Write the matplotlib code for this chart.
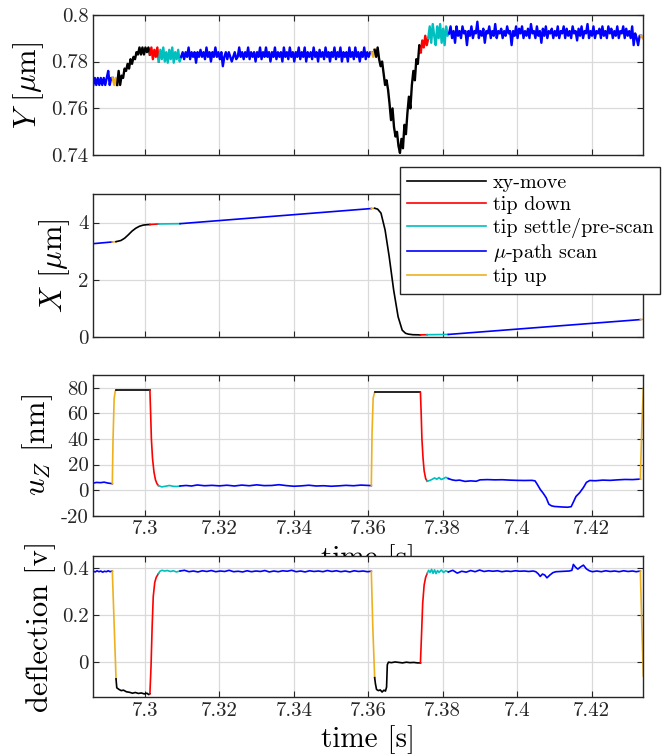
import numpy as np
import matplotlib
matplotlib.use("Agg")
import matplotlib.pyplot as plt
from matplotlib.lines import Line2D
from matplotlib.ticker import FuncFormatter

plt.rcParams['font.family'] = 'cmr10'
plt.rcParams['mathtext.fontset'] = 'cm'
plt.rcParams['axes.unicode_minus'] = False

# phases of the move / scan cycle (start/end times in s)
phase_names = ['scan', 'up', 'move', 'down', 'settle', 'scan', 'up', 'move',
               'down', 'settle', 'scan', 'up']
phase_edges = [7.2861, 7.2912, 7.2922, 7.3013, 7.3036, 7.3094, 7.3608, 7.3617,
               7.3740, 7.3758, 7.3815, 7.4331, 7.4339]
phase_colors = {'move': 'k', 'down': '#FF0000', 'settle': '#00BFBF',
                'scan': '#0000FF', 'up': '#EDB120'}
phase_labels = {'move': 'xy-move', 'down': 'tip down',
                'settle': 'tip settle/pre-scan', 'scan': r'$\mu$-path scan',
                'up': 'tip up'}

# Y position (nm), sampled every 0.4 ms from 7.2861 s
y_t0 = 7.2861
y_dt = 0.0004
y_nm = [770, 773, 770, 773, 770, 773, 770, 773, 770, 773, 776, 770, 773,
        773, 770, 773,
        770, 776, 770, 774, 773, 777, 776, 779, 777, 781, 779, 782, 781, 784, 783, 786,
        783, 786, 783, 786, 784, 786,
        783, 786, 781, 785, 782, 786,
        780, 785, 781, 786, 780, 784, 779.5, 785, 781, 786, 779.5, 784, 781, 785, 780,
        782, 784, 781, 784, 782, 786, 781, 784, 782, 784, 779.5, 784, 782, 785, 782, 784,
        781, 786, 782, 784, 780, 784, 782, 786, 782, 784, 781, 784, 778, 782, 784, 781,
        784, 782, 780, 782, 784, 781, 782, 786, 782, 784, 781, 784, 782, 786, 781, 784,
        782, 784, 780, 784, 782, 786, 781, 784, 782, 786, 782, 784, 780, 784, 782, 786,
        781, 784, 782, 784, 780, 786, 782, 784, 781, 786, 782, 784, 780, 784, 782, 786,
        781, 784, 782, 786, 780, 784, 782, 784, 781, 786, 782, 784, 780, 785, 782, 784,
        781, 786, 782, 784, 780, 784, 782, 786, 781, 784, 782, 786, 780, 784, 782, 784,
        780, 786, 782, 784, 781, 786, 782, 784, 780, 784, 782, 786, 781, 784, 782, 784,
        784, 782,
        785, 782, 786, 781, 778, 780, 775, 770, 772, 768, 762, 755, 760, 752, 748, 750,
        744, 741, 747, 743, 753, 749, 758, 765, 760, 770, 776, 772, 781, 779, 787,
        784, 789, 786, 791, 787,
        790, 795, 788, 796, 791, 787, 795, 790, 796, 788, 794, 787, 795, 791,
        792, 795, 790, 793, 788, 795, 791, 793, 790, 795, 792, 793, 787, 793, 791, 795,
        790, 793, 792, 797, 790, 793, 791, 794, 788, 793, 792, 795, 790, 793, 791, 796,
        790, 793, 792, 794, 790, 793, 791, 795, 792, 793, 787, 793, 791, 795, 790, 794,
        792, 795, 790, 793, 791, 794, 790, 796, 792, 793, 790, 795, 791, 793, 788, 794,
        791, 795, 790, 793, 792, 794, 790, 793, 791, 795, 790, 793, 792, 795, 790, 794,
        791, 793, 790, 795, 792, 793, 789, 794, 791, 795, 790, 793, 792, 796, 790, 793,
        791, 795, 790, 793, 792, 794, 790, 795, 791, 793, 790, 795, 792, 794, 790, 793,
        791, 795, 790, 793, 792, 795, 790, 794, 791, 793, 790, 795, 787, 792, 790, 787, 791,
        791, 790]

# X position (um)
x_t = [7.2861, 7.2912, 7.2922, 7.2935, 7.2945, 7.2955, 7.2965, 7.2975, 7.2985,
       7.2995, 7.3005, 7.3013, 7.3036, 7.3094, 7.3608, 7.3617, 7.3625, 7.3634,
       7.3645, 7.3656, 7.3668, 7.3680, 7.3691, 7.3700, 7.3708, 7.3720, 7.3740,
       7.3758, 7.3815, 7.4331, 7.4339]
x_um = [3.26, 3.32, 3.33, 3.37, 3.45, 3.57, 3.70, 3.80, 3.87,
        3.91, 3.925, 3.93, 3.95, 3.96, 4.49, 4.50, 4.47, 4.33,
        3.74, 2.81, 1.64, 0.70, 0.23, 0.12, 0.09, 0.07, 0.065,
        0.07, 0.08, 0.60, 0.61]

# u_Z (nm)
uz_t = [7.2861, 7.2870, 7.2880, 7.2890, 7.2900, 7.2912, 7.2914, 7.2917, 7.2920,
        7.2922, 7.3013, 7.3015, 7.3017, 7.3020, 7.3024, 7.3028, 7.3032, 7.3036,
        7.3045, 7.3055, 7.3065, 7.3075, 7.3085, 7.3094,
        7.3110, 7.3125, 7.3140, 7.3160, 7.3180, 7.3200, 7.3220, 7.3240, 7.3260,
        7.3280, 7.3300, 7.3320, 7.3340, 7.3360, 7.3380, 7.3400, 7.3420, 7.3440,
        7.3460, 7.3480, 7.3500, 7.3520, 7.3540, 7.3560, 7.3580, 7.3608,
        7.3610, 7.3613, 7.3617, 7.3740, 7.3742, 7.3744, 7.3747, 7.3750, 7.3754,
        7.3758, 7.3765, 7.3772, 7.3778, 7.3784, 7.3790, 7.3796, 7.3802, 7.3808,
        7.3815, 7.3825, 7.3835, 7.3845, 7.3860, 7.3875, 7.3890, 7.3900, 7.3920,
        7.3940, 7.3960, 7.3980, 7.4000, 7.4020, 7.4040, 7.4048, 7.4055, 7.4062,
        7.4070, 7.4078, 7.4085, 7.4092, 7.4100, 7.4120, 7.4135, 7.4145, 7.4150,
        7.4158, 7.4168, 7.4178, 7.4186, 7.4195, 7.4210, 7.4230, 7.4250, 7.4270,
        7.4290, 7.4310, 7.4331, 7.4335, 7.4339]
uz_nm = [5.5, 6.0, 5.8, 6.2, 5.5, 5.0, 40, 72, 77.5,
         78, 78, 60, 40, 25, 14, 8, 5, 3.5,
         2.5, 3.0, 3.6, 3.0, 2.8, 3.2,
         3.6, 3.2, 4.0, 3.4, 3.7, 3.3, 3.8, 3.2, 3.9,
         3.4, 4.1, 3.5, 3.6, 4.2, 3.5, 3.0, 3.3, 3.8,
         3.2, 3.4, 3.0, 3.3, 3.7, 3.4, 3.9, 3.5,
         45, 72, 76.5, 76.5, 60, 40, 25, 15, 9,
         7, 7.5, 8.5, 9.5, 8.5, 9.8, 8.3, 9.0, 10.0,
         9.0, 8.0, 7.5, 7.8, 6.8, 7.2, 6.9, 8.0, 8.2,
         8.0, 8.1, 7.8, 7.6, 7.5, 7.6, 7.2, 4.0, 0.5,
         -2.5, -6, -11, -12.3, -12.8, -13.2, -13.4, -13.0, -10,
         -5, -2, 2, 6, 7.5, 7.3, 7.8, 7.6, 8.0,
         8.3, 8.2, 8.6, 50, 80]

# deflection (V)
defl_t = [7.2861, 7.2866, 7.2871, 7.2876, 7.2881, 7.2886, 7.2891, 7.2896, 7.2901,
          7.2906, 7.2912, 7.2917, 7.2922,
          7.2924, 7.2930, 7.2936, 7.2942, 7.2950, 7.2958, 7.2966, 7.2974, 7.2982,
          7.2990, 7.2998, 7.3005, 7.3010, 7.3013,
          7.3016, 7.3019, 7.3022, 7.3026, 7.3030, 7.3036,
          7.3040, 7.3046, 7.3052, 7.3060, 7.3068, 7.3076, 7.3084, 7.3094,
          7.3106, 7.3118, 7.3130, 7.3142, 7.3154, 7.3166, 7.3178, 7.3190, 7.3202,
          7.3214, 7.3226, 7.3238, 7.3250, 7.3262, 7.3274, 7.3286, 7.3298, 7.3310,
          7.3322, 7.3334, 7.3346, 7.3358, 7.3370, 7.3382, 7.3394, 7.3406, 7.3418,
          7.3430, 7.3442, 7.3454, 7.3466, 7.3478, 7.3490, 7.3502, 7.3514, 7.3526,
          7.3538, 7.3550, 7.3562, 7.3574, 7.3586, 7.3598, 7.3608,
          7.3612, 7.3617,
          7.3619, 7.3622, 7.3627, 7.3632, 7.3637, 7.3642, 7.3646, 7.3649, 7.3651,
          7.3654, 7.3662, 7.3672, 7.3682, 7.3692, 7.3702, 7.3712, 7.3722, 7.3732,
          7.3740,
          7.3743, 7.3746, 7.3750, 7.3754, 7.3758,
          7.3762, 7.3766, 7.3770, 7.3774, 7.3778, 7.3782, 7.3786, 7.3790, 7.3796,
          7.3802, 7.3808, 7.3815,
          7.3827, 7.3839, 7.3851, 7.3863, 7.3875, 7.3887, 7.3899, 7.3911, 7.3923,
          7.3935, 7.3947, 7.3959, 7.3971, 7.3983, 7.3995, 7.4007, 7.4019, 7.4031,
          7.4043, 7.4050, 7.4056, 7.4062, 7.4068, 7.4074, 7.4080, 7.4088, 7.4096,
          7.4104, 7.4116, 7.4128, 7.4140, 7.4147, 7.4151, 7.4157, 7.4163, 7.4170,
          7.4178, 7.4186, 7.4194, 7.4202, 7.4214, 7.4226, 7.4238, 7.4250, 7.4262,
          7.4274, 7.4286, 7.4298, 7.4310, 7.4320, 7.4331,
          7.4335, 7.4339]
defl_v = [.388, .385, .390, .386, .389, .384, .388, .386, .390,
          .386, .389, .16, -.07,
          -.108, -.115, -.120, -.118, -.125, -.127, -.131, -.128, -.132,
          -.130, -.134, -.131, -.137, -.133,
          -.02, .15, .28, .34, .362, .378,
          .388, .392, .389, .391, .387, .390, .385, .389,
          .392, .386, .389, .385, .390, .387, .391, .386, .389,
          .387, .392, .386, .388, .385, .390, .386, .389, .387,
          .391, .385, .389, .386, .390, .388, .392, .386, .389,
          .385, .390, .387, .389, .386, .391, .387, .390, .386,
          .389, .385, .390, .387, .389, .386, .388,
          .15, -.065,
          -.09, -.115, -.120, -.117, -.126, -.118, -.122, -.105, -.01,
          .001, -.001, .002, 0.0, -.002, .001, -.001, 0.0, -.002,
          -.002,
          .12, .25, .33, .362, .378,
          .392, .383, .396, .379, .394, .378, .391, .383, .393,
          .383, .390, .385,
          .392, .380, .388, .384, .391, .386, .393, .387, .390,
          .388, .390, .386, .389, .387, .390, .388, .389, .387,
          .389, .386, .378, .366, .376, .372, .360, .372, .382,
          .386, .387, .388, .389, .392, .417, .405, .397, .406,
          .414, .398, .390, .386, .389, .386, .390, .387, .389,
          .386, .390, .387, .389, .386, .389,
          .15, -.058]


def draw(ax, t, v, lw=1.2):
    t = np.asarray(t, dtype=float)
    v = np.asarray(v, dtype=float)
    for name, t0, t1 in zip(phase_names, phase_edges[:-1], phase_edges[1:]):
        idx = np.nonzero((t >= t0 - 1e-9) & (t <= t1 + 1e-9))[0]
        if len(idx) == 0:
            continue
        lo, hi = idx[0], idx[-1]
        if t[hi] < t1 - 1e-9 and hi + 1 < len(t):
            hi += 1
        ax.plot(t[lo:hi + 1], v[lo:hi + 1], color=phase_colors[name], lw=lw)


def style(ax):
    ax.grid(True, color='#dadada', lw=0.9)
    ax.set_axisbelow(True)
    ax.tick_params(direction='in', top=True, right=True, length=4,
                   labelsize=15, color='#262626', labelcolor='#262626')
    for s in ax.spines.values():
        s.set_color('#262626')
        s.set_linewidth(1.0)
    ax.set_xlim(7.2861, 7.4339)
    ax.set_xticks([7.30, 7.32, 7.34, 7.36, 7.38, 7.40, 7.42])
    fmt = FuncFormatter(lambda x, p: '%g' % round(x, 6))
    ax.xaxis.set_major_formatter(fmt)
    ax.yaxis.set_major_formatter(fmt)


fig = plt.figure(figsize=(6.7, 7.56), dpi=100)
L, W = 0.1393, 0.8209
ax1 = fig.add_axes([L, 0.7946, W, 0.1860])
ax2 = fig.add_axes([L, 0.5546, W, 0.1888])
ax3 = fig.add_axes([L, 0.3179, W, 0.1861])
ax4 = fig.add_axes([L, 0.0784, W, 0.1865])

t_y = y_t0 + y_dt * np.arange(len(y_nm))
draw(ax1, t_y, np.array(y_nm) / 1000.0, lw=1.7)
draw(ax2, x_t, x_um)
draw(ax3, uz_t, uz_nm)
draw(ax4, defl_t, defl_v)

for ax in (ax1, ax2, ax3, ax4):
    style(ax)

ax1.set_ylim(0.74, 0.80)
ax1.set_yticks([0.74, 0.76, 0.78, 0.80])
ax1.tick_params(labelbottom=False)
ax1.set_ylabel(r'$Y$ [$\mu$m]', fontsize=22)

ax2.set_ylim(0, 5)
ax2.set_yticks([0, 2, 4])
ax2.tick_params(labelbottom=False)
ax2.set_ylabel(r'$X$ [$\mu$m]', fontsize=22)

ax3.set_ylim(-20, 90)
ax3.set_yticks([-20, 0, 20, 40, 60, 80])
ax3.set_ylabel(r'$u_Z$ [nm]', fontsize=22)
ax3.set_xlabel('time [s]', fontsize=21)

ax4.set_ylim(-0.146, 0.454)
ax4.set_yticks([0, 0.2, 0.4])
ax4.set_ylabel('deflection [v]', fontsize=22)
ax4.set_xlabel('time [s]', fontsize=21)

order = ['move', 'down', 'settle', 'scan', 'up']
handles = [Line2D([], [], color=phase_colors[n], lw=1.2) for n in order]
leg = fig.legend(handles, [phase_labels[n] for n in order], loc='upper left',
                 bbox_to_anchor=(400 / 670, 1 - 167 / 756), fontsize=14.5,
                 handlelength=3.9, handletextpad=0.35, labelspacing=0.2,
                 borderpad=0.35, borderaxespad=0, fancybox=False, framealpha=1)
leg.get_frame().set_edgecolor('#262626')
leg.get_frame().set_linewidth(1.0)

fig.savefig('out.png', dpi=100)
